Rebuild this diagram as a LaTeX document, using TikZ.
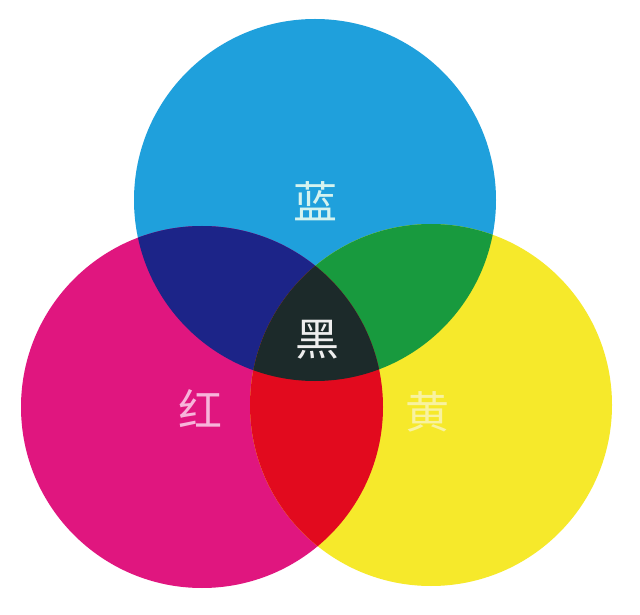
\documentclass[tikz,border=0pt]{standalone}
\usepackage{fontspec}
\newfontfamily\cjk{Noto Sans CJK SC}
\usepackage{tikz}
\definecolor{cyanblue}{HTML}{1FA0DC}
\definecolor{magentared}{HTML}{E0167F}
\definecolor{lemon}{HTML}{F6E92B}
\definecolor{navy}{HTML}{1C2488}
\definecolor{leaf}{HTML}{189A3E}
\definecolor{scarlet}{HTML}{E20A1E}
\definecolor{ink}{HTML}{1C2A2A}

\begin{document}
\begin{tikzpicture}[x=1pt, y=1pt,
    disc/.style={circle, minimum size=362pt, inner sep=0pt},
    word/.style={font=\cjk\fontsize{44}{44}\selectfont, inner sep=0pt}]

    \useasboundingbox (0,0) rectangle (640,614);
    \fill[white] (0,0) rectangle (640,614);

    % The three primaries
    \node[disc, fill=cyanblue] (blue) at (315,414) {};
    \node[disc, fill=magentared] (red) at (202,207) {};
    \node[disc, fill=lemon] (yellow) at (431,209) {};

    % Overlap of two circles
    \begin{scope}
        \clip (blue.center) circle (181);
        \fill[navy] (red.center) circle (181);
        \fill[leaf] (yellow.center) circle (181);
    \end{scope}
    \begin{scope}
        \clip (red.center) circle (181);
        \fill[scarlet] (yellow.center) circle (181);
    \end{scope}

    % Overlap of all three
    \begin{scope}
        \clip (blue.center) circle (181);
        \clip (red.center) circle (181);
        \fill[ink] (yellow.center) circle (181);
    \end{scope}

    % Names
    \node[word, text={rgb,255:red,213;green,243;blue,239}] (lan) at (315,413) {蓝};
    \node[word, text={rgb,255:red,238;green,238;blue,238}] (hei) at (317,274) {黑};
    \node[word, text={rgb,255:red,247;green,181;blue,219}] (hong) at (200,205) {红};
    \node[word, text={rgb,255:red,248;green,242;blue,160}] (huang) at (427,202) {黄};

\end{tikzpicture}
\end{document}
